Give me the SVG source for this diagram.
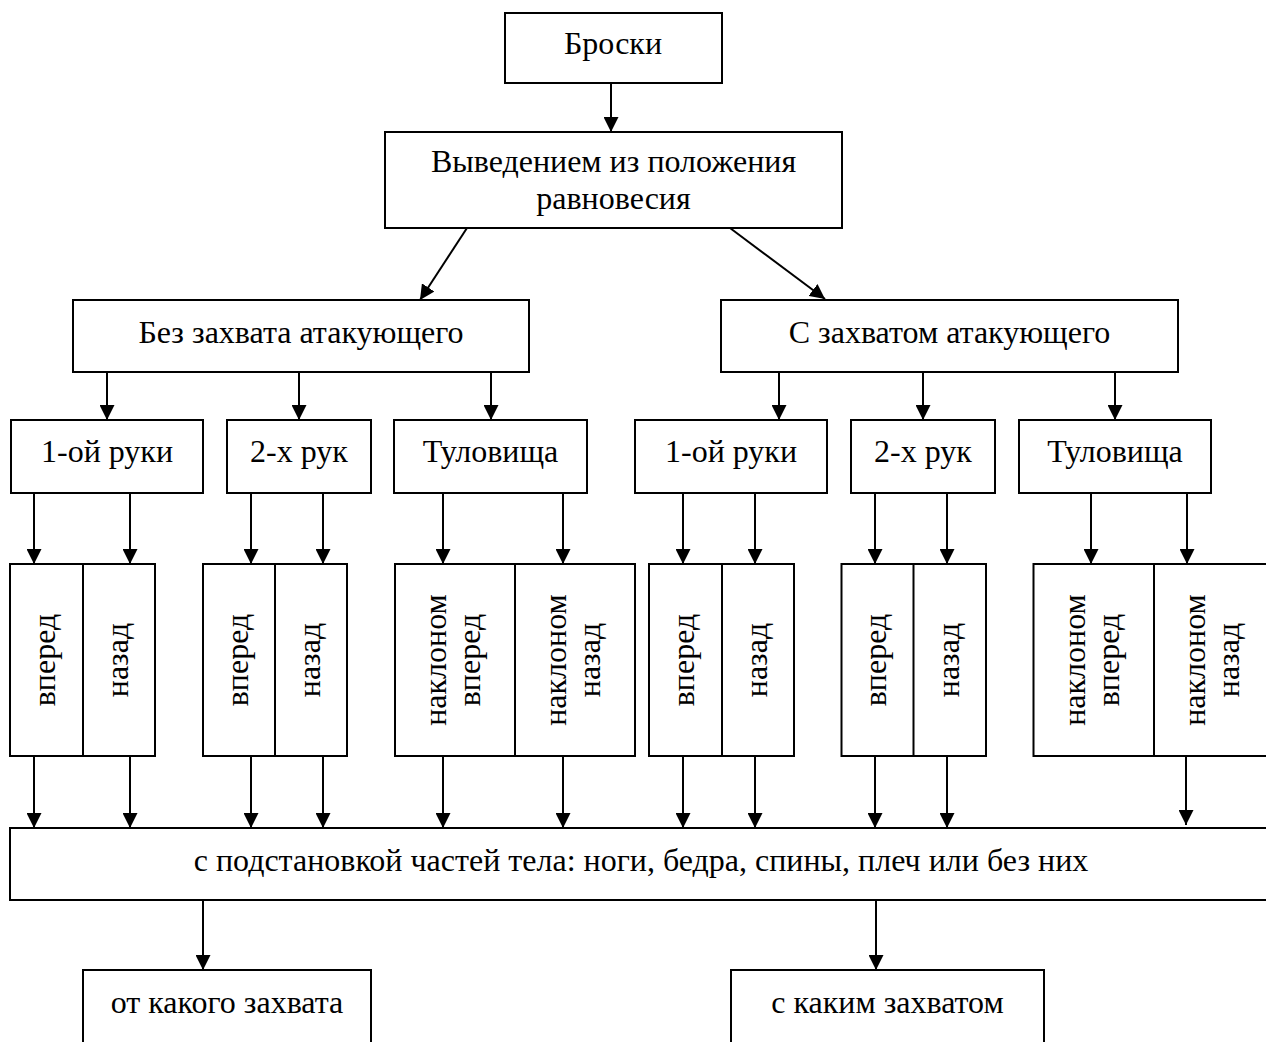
<svg xmlns="http://www.w3.org/2000/svg" width="1266" height="1042" viewBox="0 0 1266 1042">
<style>
.box{fill:#fff;stroke:#000;stroke-width:2}
.div{stroke:#000;stroke-width:2}
.t{font-family:"Liberation Serif","Times New Roman",serif;font-size:32px;fill:#000;text-anchor:middle}
.c{stroke:#000;stroke-width:2;fill:none;marker-end:url(#ah)}
</style>
<defs>
<marker id="ah" markerUnits="userSpaceOnUse" markerWidth="15" markerHeight="15" refX="15" refY="7.5" orient="auto">
<path d="M0,0 L15,7.5 L0,15 z" fill="#000"/>
</marker>
</defs>
<rect width="1266" height="1042" fill="#fff"/>

<g id="connectors">
<line class="c" x1="611" y1="83" x2="611" y2="132"/>
<line class="c" x1="467" y1="228" x2="420" y2="300"/>
<line class="c" x1="730" y1="228" x2="825" y2="299"/>
<line class="c" x1="107" y1="372" x2="107" y2="420"/>
<line class="c" x1="299" y1="372" x2="299" y2="420"/>
<line class="c" x1="491" y1="372" x2="491" y2="420"/>
<line class="c" x1="779" y1="372" x2="779" y2="420"/>
<line class="c" x1="923" y1="372" x2="923" y2="420"/>
<line class="c" x1="1115" y1="372" x2="1115" y2="420"/>
<line class="c" x1="34" y1="493" x2="34" y2="564"/>
<line class="c" x1="130" y1="493" x2="130" y2="564"/>
<line class="c" x1="251" y1="493" x2="251" y2="564"/>
<line class="c" x1="323" y1="493" x2="323" y2="564"/>
<line class="c" x1="443" y1="493" x2="443" y2="564"/>
<line class="c" x1="563" y1="493" x2="563" y2="564"/>
<line class="c" x1="683" y1="493" x2="683" y2="564"/>
<line class="c" x1="755" y1="493" x2="755" y2="564"/>
<line class="c" x1="875" y1="493" x2="875" y2="564"/>
<line class="c" x1="947" y1="493" x2="947" y2="564"/>
<line class="c" x1="1091" y1="493" x2="1091" y2="564"/>
<line class="c" x1="1187" y1="493" x2="1187" y2="564"/>
<line class="c" x1="34" y1="756" x2="34" y2="828"/>
<line class="c" x1="130" y1="756" x2="130" y2="828"/>
<line class="c" x1="251" y1="756" x2="251" y2="828"/>
<line class="c" x1="323" y1="756" x2="323" y2="828"/>
<line class="c" x1="443" y1="756" x2="443" y2="828"/>
<line class="c" x1="563" y1="756" x2="563" y2="828"/>
<line class="c" x1="683" y1="756" x2="683" y2="828"/>
<line class="c" x1="755" y1="756" x2="755" y2="828"/>
<line class="c" x1="875" y1="756" x2="875" y2="828"/>
<line class="c" x1="947" y1="756" x2="947" y2="828"/>
<line class="c" x1="1186" y1="753" x2="1186" y2="825"/>
<line class="c" x1="203" y1="901" x2="203" y2="970"/>
<line class="c" x1="876" y1="901" x2="876" y2="970"/>
</g>

<g id="n-broski">
<rect class="box" x="505" y="13" width="217" height="70"/>
<text class="t" x="613" y="54">Броски</text>
</g>
<g id="n-vyvedeniem">
<rect class="box" x="385" y="132" width="457" height="96"/>
<text class="t" x="613.5" y="172">Выведением из положения</text>
<text class="t" x="613.5" y="209">равновесия</text>
</g>
<g id="n-bez">
<rect class="box" x="73" y="300" width="456" height="72"/>
<text class="t" x="301" y="343">Без захвата атакующего</text>
</g>
<g id="n-s">
<rect class="box" x="721" y="300" width="457" height="72"/>
<text class="t" x="949.5" y="343">С захватом атакующего</text>
</g>

<g id="n-ruka1-l">
<rect class="box" x="11" y="420" width="192" height="73"/>
<text class="t" x="107" y="462">1-ой руки</text>
</g>
<g id="n-ruk2-l">
<rect class="box" x="227" y="420" width="144" height="73"/>
<text class="t" x="299" y="462">2-х рук</text>
</g>
<g id="n-tul-l">
<rect class="box" x="394" y="420" width="193" height="73"/>
<text class="t" x="490.5" y="462">Туловища</text>
</g>
<g id="n-ruka1-r">
<rect class="box" x="635" y="420" width="192" height="73"/>
<text class="t" x="731" y="462">1-ой руки</text>
</g>
<g id="n-ruk2-r">
<rect class="box" x="851" y="420" width="144" height="73"/>
<text class="t" x="923" y="462">2-х рук</text>
</g>
<g id="n-tul-r">
<rect class="box" x="1019" y="420" width="192" height="73"/>
<text class="t" x="1115" y="462">Туловища</text>
</g>

<g id="v1">
<rect class="box" x="10" y="564" width="145" height="192"/>
<line class="div" x1="83" y1="564" x2="83" y2="756"/>
<text class="t" transform="translate(55,660) rotate(-90)">вперед</text>
<text class="t" transform="translate(127.5,660) rotate(-90)">назад</text>
</g>
<g id="v2">
<rect class="box" x="203" y="564" width="144" height="192"/>
<line class="div" x1="275" y1="564" x2="275" y2="756"/>
<text class="t" transform="translate(247.5,660) rotate(-90)">вперед</text>
<text class="t" transform="translate(319.5,660) rotate(-90)">назад</text>
</g>
<g id="v3">
<rect class="box" x="395" y="564" width="240" height="192"/>
<line class="div" x1="515" y1="564" x2="515" y2="756"/>
<text class="t" transform="translate(446,660) rotate(-90)">наклоном</text>
<text class="t" transform="translate(480,660) rotate(-90)">вперед</text>
<text class="t" transform="translate(566,660) rotate(-90)">наклоном</text>
<text class="t" transform="translate(600,660) rotate(-90)">назад</text>
</g>
<g id="v4">
<rect class="box" x="649" y="564" width="145" height="192"/>
<line class="div" x1="722" y1="564" x2="722" y2="756"/>
<text class="t" transform="translate(694,660) rotate(-90)">вперед</text>
<text class="t" transform="translate(766.5,660) rotate(-90)">назад</text>
</g>
<g id="v5">
<rect class="box" x="841.5" y="564" width="144.5" height="192"/>
<line class="div" x1="913.5" y1="564" x2="913.5" y2="756"/>
<text class="t" transform="translate(886,660) rotate(-90)">вперед</text>
<text class="t" transform="translate(958.5,660) rotate(-90)">назад</text>
</g>
<g id="v6">
<rect class="box" x="1033.5" y="564" width="250" height="192"/>
<line class="div" x1="1154" y1="564" x2="1154" y2="756"/>
<text class="t" transform="translate(1084.5,660) rotate(-90)">наклоном</text>
<text class="t" transform="translate(1118.5,660) rotate(-90)">вперед</text>
<text class="t" transform="translate(1204.5,660) rotate(-90)">наклоном</text>
<text class="t" transform="translate(1238.5,660) rotate(-90)">назад</text>
</g>

<g id="n-podstanovka">
<rect class="box" x="10" y="828" width="1275" height="72"/>
<text class="t" x="641" y="871">с подстановкой частей тела: ноги, бедра, спины, плеч или без них</text>
</g>
<g id="n-ot">
<rect class="box" x="83" y="970" width="288" height="100"/>
<text class="t" x="227" y="1013">от какого захвата</text>
</g>
<g id="n-s-kakim">
<rect class="box" x="731" y="970" width="313" height="100"/>
<text class="t" x="887.5" y="1013">с каким захватом</text>
</g>
</svg>
